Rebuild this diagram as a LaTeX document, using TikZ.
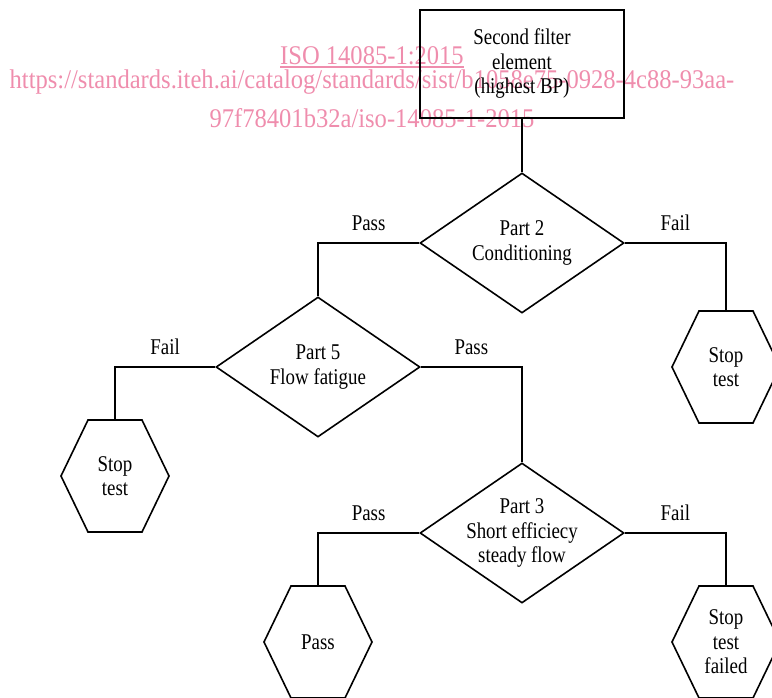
\documentclass[tikz,border=0pt]{standalone}
\usepackage{fontspec}
\setmainfont{Liberation Serif}[FakeStretch=0.84]
\newfontfamily\wmfont{Liberation Serif}[FakeStretch=0.91]
\usetikzlibrary{shapes.geometric,calc}
\definecolor{wmpink}{RGB}{239,141,173}
\newcommand{\myhex}[4]{%
  \node[hextext] (#1) at (#2,#3) {#4};
  \draw[hexline] ($(#2,#3)+(-54,0)$) -- ($(#2,#3)+(-27,-56)$) -- ($(#2,#3)+(27,-56)$)
     -- ($(#2,#3)+(54,0)$) -- ($(#2,#3)+(27,56)$) -- ($(#2,#3)+(-27,56)$) -- cycle;
  \coordinate (#1top) at ($(#2,#3)+(0,-56)$);
}
\tikzset{
  txt/.style={font=\fontsize{22.5}{24.5}\selectfont, align=center},
  conn/.style={line width=1.6pt},
  startbox/.style={txt, draw, line width=1.6pt, minimum width=204pt, minimum height=108pt, inner sep=0pt},
  decision/.style={diamond, draw, line width=1.6pt, minimum width=204pt, minimum height=140pt, inner sep=0pt},
  hextext/.style={txt, inner sep=0pt},
  hexline/.style={line width=1.6pt},
  lbl/.style={txt, inner sep=0pt, above=11pt},
  wm/.style={text=wmpink, font=\wmfont\fontsize{27}{30}\selectfont, inner sep=0pt, anchor=base},
}
\begin{document}
\begin{tikzpicture}[x=1pt,y=-1pt]
\useasboundingbox (0,0) rectangle (772,697);
% watermark
\node[wm] (wm1) at (372,64) {ISO 14085-1:2015};
\draw[wmpink, line width=1.3pt] ($(wm1.base west)+(0,3)$) -- ($(wm1.base east)+(0,3)$);
\node[wm] (wm2) at (372,88) {https://standards.iteh.ai/catalog/standards/sist/b1058e75-0928-4c88-93aa-};
\node[wm] (wm3) at (372,127) {97f78401b32a/iso-14085-1-2015};
% diagram
\node[startbox] (box) at (522,64) {Second filter\\element\\(highest BP)};
\node[decision, label={[txt]center:Part 2\\Conditioning}] (d2) at (522,243) {};
\node[decision, label={[txt]center:Part 5\\Flow fatigue}] (d5) at (318,367) {};
\node[decision, label={[txt]center:Part 3\\Short efficiecy\\steady flow}] (d3) at (522,533) {};
\myhex{hR1}{726}{367}{Stop\\test}
\myhex{hL}{115}{476}{Stop\\test}
\myhex{hP}{318}{642}{Pass}
\myhex{hR2}{726}{642}{Stop\\test\\failed}
\draw[conn] (box.south) -- (d2.north);
\draw[conn] (d2.west) -| node[lbl,pos=0.25] (l1) {Pass} (d5.north);
\draw[conn] (d2.east) -| node[lbl,pos=0.25] (l2) {Fail} (hR1top);
\draw[conn] (d5.west) -| node[lbl,pos=0.25] (l3) {Fail} (hLtop);
\draw[conn] (d5.east) -| node[lbl,pos=0.25] (l4) {Pass} (d3.north);
\draw[conn] (d3.west) -| node[lbl,pos=0.25] (l5) {Pass} (hPtop);
\draw[conn] (d3.east) -| node[lbl,pos=0.25] (l6) {Fail} (hR2top);
\end{tikzpicture}
\end{document}
